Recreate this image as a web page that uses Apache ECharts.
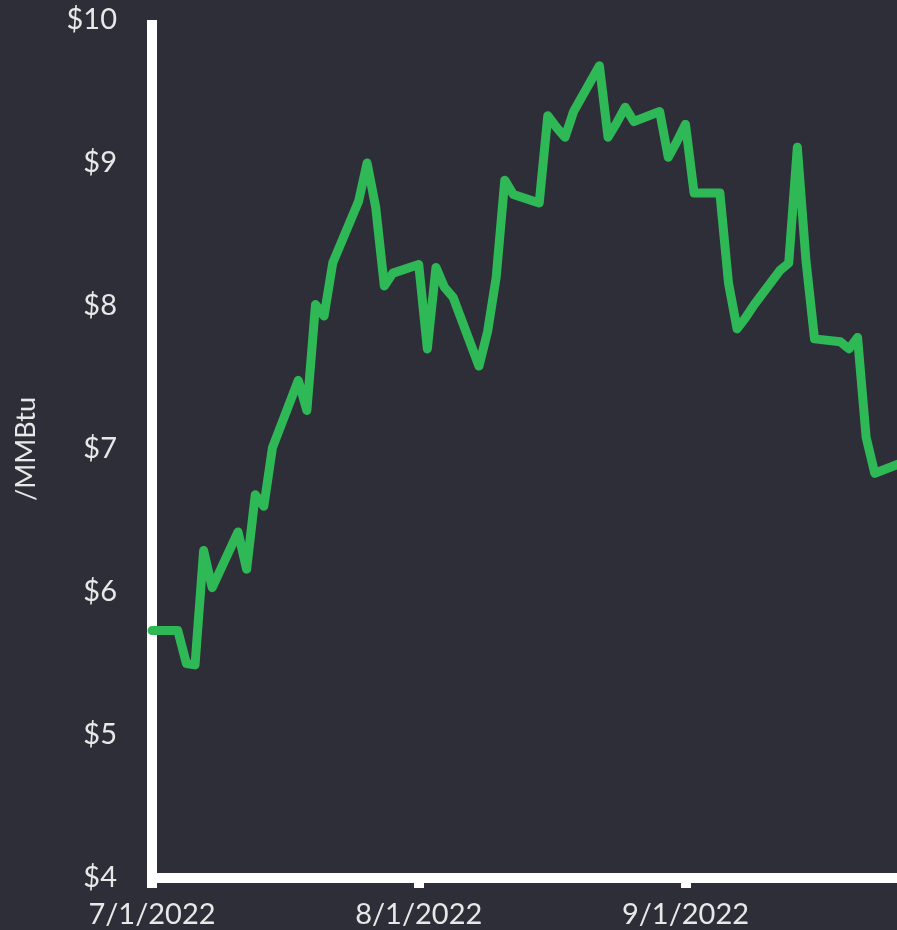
<!DOCTYPE html>
<html>
<head>
<meta charset="utf-8">
<title>Natural gas price, $/MMBtu</title>
<script src="https://cdn.jsdelivr.net/npm/echarts@6/dist/echarts.min.js"></script>
<style>
  html, body { margin: 0; padding: 0; background: #2e2e38; overflow: hidden; }
  #chart { width: 935px; height: 930px; }
</style>
</head>
<body>
<div id="chart"></div>
<script>
// Daily settlement prices ($/MMBtu), weekdays, July - September 2022
const dates = [
  '2022-07-01','2022-07-04','2022-07-05','2022-07-06','2022-07-07','2022-07-08',
  '2022-07-11','2022-07-12','2022-07-13','2022-07-14','2022-07-15',
  '2022-07-18','2022-07-19','2022-07-20','2022-07-21','2022-07-22',
  '2022-07-25','2022-07-26','2022-07-27','2022-07-28','2022-07-29',
  '2022-08-01','2022-08-02','2022-08-03','2022-08-04','2022-08-05',
  '2022-08-08','2022-08-09','2022-08-10','2022-08-11','2022-08-12',
  '2022-08-15','2022-08-16','2022-08-17','2022-08-18','2022-08-19',
  '2022-08-22','2022-08-23','2022-08-24','2022-08-25','2022-08-26',
  '2022-08-29','2022-08-30','2022-08-31','2022-09-01','2022-09-02',
  '2022-09-05','2022-09-06','2022-09-07','2022-09-08','2022-09-09',
  '2022-09-12','2022-09-13','2022-09-14','2022-09-15','2022-09-16',
  '2022-09-19','2022-09-20','2022-09-21','2022-09-22','2022-09-23',
  '2022-09-26'
];
const prices = [
  5.73, 5.73, 5.50, 5.49, 6.29, 6.03,
  6.42, 6.16, 6.68, 6.60, 7.01,
  7.48, 7.27, 8.01, 7.93, 8.30,
  8.73, 9.00, 8.69, 8.14, 8.23,
  8.29, 7.70, 8.27, 8.13, 8.06,
  7.58, 7.82, 8.20, 8.88, 8.78,
  8.72, 9.33, 9.25, 9.18, 9.36,
  9.68, 9.18, 9.28, 9.39, 9.29,
  9.36, 9.04, 9.15, 9.27, 8.79,
  8.79, 8.16, 7.84, 7.92, 8.01,
  8.25, 8.30, 9.11, 8.32, 7.77,
  7.75, 7.70, 7.78, 7.08, 6.83,
  6.90
];
const tickDates = ['2022-07-01', '2022-08-01', '2022-09-01'];
const axisStart = '2022-07-01';
const axisEnd = '2022-09-30';
const yMin = 4, yMax = 10, yStep = 1;
const yName = '/MMBtu';

// local-midnight timestamp for a YYYY-MM-DD string
function ts(s) {
  const p = s.split('-').map(Number);
  return new Date(p[0], p[1] - 1, p[2]).getTime();
}

const seriesData = dates.map((d, i) => [ts(d), prices[i]]);
const tickValues = tickDates.map(ts);

const textColor = '#e8e8e8';
const fontFamily = 'Lato, "Open Sans", sans-serif';

const chart = echarts.init(document.getElementById('chart'), null, { renderer: 'canvas' });
chart.setOption({
  backgroundColor: '#2e2e38',
  animation: false,
  grid: { left: 152, right: 0, top: 20, bottom: 52, containLabel: false },
  xAxis: {
    type: 'value',
    min: ts(axisStart),
    max: ts(axisEnd),
    axisLine: { show: true, lineStyle: { color: '#ffffff', width: 10, cap: 'butt' } },
    axisTick: {
      show: true, length: 10, customValues: tickValues,
      lineStyle: { color: '#ffffff', width: 10 }
    },
    axisLabel: {
      customValues: tickValues,
      color: textColor, fontFamily: fontFamily, fontSize: 29, margin: 22,
      formatter: function (v) {
        const d = new Date(v);
        return (d.getMonth() + 1) + '/' + d.getDate() + '/' + d.getFullYear();
      }
    },
    splitLine: { show: false }
  },
  yAxis: {
    type: 'value',
    min: yMin, max: yMax, interval: yStep,
    name: yName,
    nameLocation: 'middle',
    nameRotate: 90,
    nameGap: 112,
    nameTextStyle: { color: textColor, fontFamily: fontFamily, fontSize: 27 },
    axisLine: { show: true, lineStyle: { color: '#ffffff', width: 10, cap: 'butt' } },
    axisTick: { show: false },
    axisLabel: {
      color: textColor, fontFamily: fontFamily, fontSize: 29, margin: 35,
      formatter: function (v) { return '$' + v; }
    },
    splitLine: { show: false }
  },
  series: [{
    type: 'line',
    data: seriesData,
    showSymbol: false,
    symbol: 'none',
    smooth: false,
    lineStyle: { color: '#2eb956', width: 9, cap: 'round', join: 'round' },
    z: 5
  }]
});
</script>
</body>
</html>
